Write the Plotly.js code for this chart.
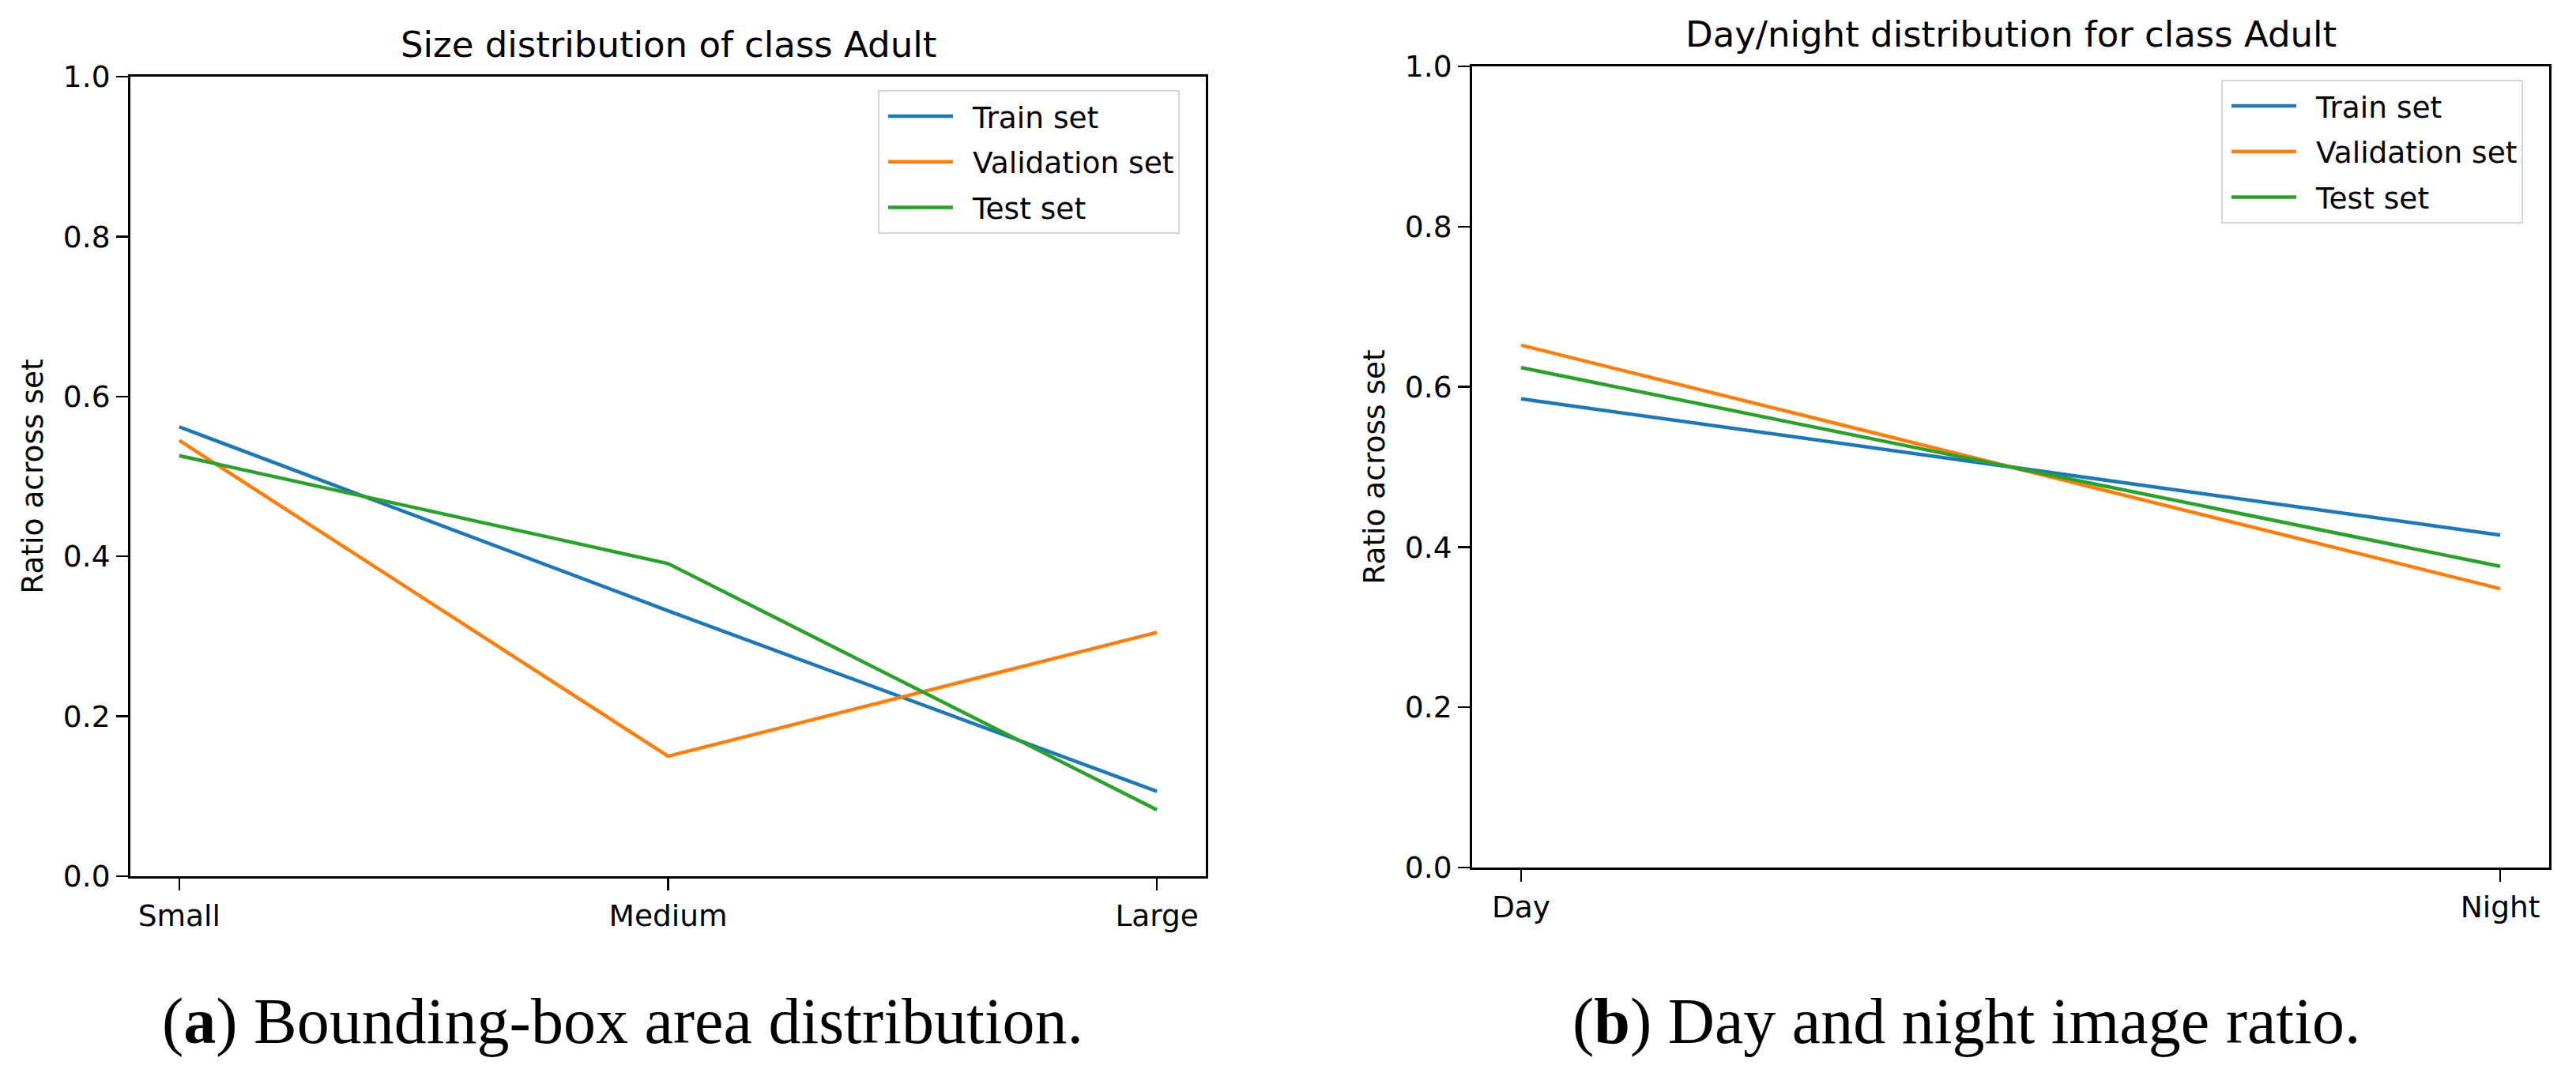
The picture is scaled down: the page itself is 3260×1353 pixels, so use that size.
<!DOCTYPE html>
<html>
<head>
<meta charset="utf-8">
<script src="https://cdn.plot.ly/plotly-3.0.1.min.js"></script>
<style>
  html, body { margin: 0; padding: 0; background: #ffffff; }
  #chart { width: 3260px; height: 1353px; }
</style>
</head>
<body>
<div id="chart"></div>
<script>
// ---- data ----
var sizeCategories = ['Small', 'Medium', 'Large'];
var sizeTrain      = [0.562, 0.332, 0.106];
var sizeValidation = [0.545, 0.150, 0.305];
var sizeTest       = [0.526, 0.391, 0.083];

var dayCategories  = ['Day', 'Night'];
var dayTrain       = [0.585, 0.415];
var dayValidation  = [0.652, 0.348];
var dayTest        = [0.624, 0.376];

var seriesNames  = ['Train set', 'Validation set', 'Test set'];
var seriesColors = ['#1f77b4', '#ff7f0e', '#2ca02c'];

var yTickVals = [0, 0.2, 0.4, 0.6, 0.8, 1.0];
var yTickText = ['0.0', '0.2', '0.4', '0.6', '0.8', '1.0'];

var titleLeft   = 'Size distribution of class Adult';
var titleRight  = 'Day/night distribution for class Adult';
var yTitle      = 'Ratio across set';
var captionLeft  = '(<b>a</b>) Bounding-box area distribution.';
var captionRight = '(<b>b</b>) Day and night image ratio.';

// ---- layout helpers ----
var W = 3260, H = 1353;
function px(x) { return x / W; }
function py(y) { return (H - y) / H; }

var FONT = 'DejaVu Sans';
var tickFont = { family: FONT, size: 37.5, color: '#000000' };
var LW = 4.5;

var sizeSeries = [sizeTrain, sizeValidation, sizeTest];
var daySeries  = [dayTrain, dayValidation, dayTest];

var traces = [];
sizeSeries.forEach(function (vals, i) {
  traces.push({
    type: 'scatter', mode: 'lines',
    x: sizeCategories, y: vals,
    name: seriesNames[i], legendgroup: 'a' + i, legend: 'legend',
    line: { color: seriesColors[i], width: LW },
    xaxis: 'x', yaxis: 'y', hoverinfo: 'skip'
  });
});
daySeries.forEach(function (vals, i) {
  traces.push({
    type: 'scatter', mode: 'lines',
    x: dayCategories, y: vals,
    name: seriesNames[i], legendgroup: 'b' + i, legend: 'legend2',
    line: { color: seriesColors[i], width: LW },
    xaxis: 'x2', yaxis: 'y2', hoverinfo: 'skip'
  });
});

function xAxis(domain, range) {
  return {
    domain: domain, type: 'category', range: range,
    showgrid: false, zeroline: false,
    showline: true, mirror: true, linecolor: '#000000', linewidth: 3,
    ticks: 'outside', ticklen: 15, tickwidth: 2.5, tickcolor: '#000000',
    tickfont: tickFont, automargin: false, fixedrange: true
  };
}
function yAxis(domain, anchor) {
  return {
    domain: domain, anchor: anchor, range: [0, 1],
    tickvals: yTickVals, ticktext: yTickText,
    showgrid: false, zeroline: false,
    showline: true, mirror: true, linecolor: '#000000', linewidth: 3,
    ticks: 'outside', ticklen: 15, tickwidth: 2.5, tickcolor: '#000000',
    tickfont: tickFont, automargin: false, fixedrange: true,
    title: { text: yTitle, font: tickFont, standoff: 14 }
  };
}

var legendBase = {
  bgcolor: '#ffffff', bordercolor: '#d6d6d6', borderwidth: 2,
  font: { family: FONT, size: 37.5, color: '#000000' },
  traceorder: 'grouped', tracegroupgap: 6,
  xanchor: 'left', yanchor: 'top', itemwidth: 108
};

var layout = {
  width: W, height: H,
  margin: { l: 0, r: 0, t: 0, b: 0, pad: 0 },
  paper_bgcolor: '#ffffff', plot_bgcolor: '#ffffff',
  showlegend: true,
  xaxis:  xAxis([px(165), px(1526)], [-0.1, 2.1]),
  yaxis:  yAxis([py(1109), py(97)], 'x'),
  xaxis2: Object.assign(xAxis([px(1863), px(3226)], [-0.05, 1.05]), { anchor: 'y2' }),
  yaxis2: yAxis([py(1098), py(84)], 'x2'),
  legend:  Object.assign({}, legendBase, { x: px(1111), y: py(114) }),
  legend2: Object.assign({}, legendBase, { x: px(2811), y: py(101) }),
  annotations: [
    { text: titleLeft, xref: 'paper', yref: 'paper', x: px(845.5), y: py(56.4),
      xanchor: 'center', yanchor: 'middle', showarrow: false,
      font: { family: FONT, size: 45, color: '#000000' } },
    { text: titleRight, xref: 'paper', yref: 'paper', x: px(2544.5), y: py(43.7),
      xanchor: 'center', yanchor: 'middle', showarrow: false,
      font: { family: FONT, size: 45, color: '#000000' } },
    { text: captionLeft, xref: 'paper', yref: 'paper', x: px(203), y: py(1292),
      xanchor: 'left', yanchor: 'middle', showarrow: false,
      font: { family: 'Liberation Serif', size: 82, color: '#000000' } },
    { text: captionRight, xref: 'paper', yref: 'paper', x: px(1988), y: py(1292),
      xanchor: 'left', yanchor: 'middle', showarrow: false,
      font: { family: 'Liberation Serif', size: 82, color: '#000000' } }
  ]
};

// Legend sample lines in the reference are shorter than the item width, with a wide
// gap before the text: trim the drawn legend sample lines (both legends) after rendering.
function trimLegendLines() {
  var paths = document.querySelectorAll('#chart .legendlines path');
  paths.forEach(function (p) {
    var d = p.getAttribute('d') || '';
    var m = d.match(/^M\s*([-\d.e]+)\s*,\s*([-\d.e]+)\s*h\s*([-\d.e]+)/);
    if (m) {
      var x0 = parseFloat(m[1]), y0 = parseFloat(m[2]);
      p.setAttribute('d', 'M' + (x0 + 6) + ',' + y0 + 'h82');
    }
  });
}

Plotly.newPlot('chart', traces, layout, { staticPlot: true, displayModeBar: false })
  .then(trimLegendLines);
</script>
</body>
</html>
